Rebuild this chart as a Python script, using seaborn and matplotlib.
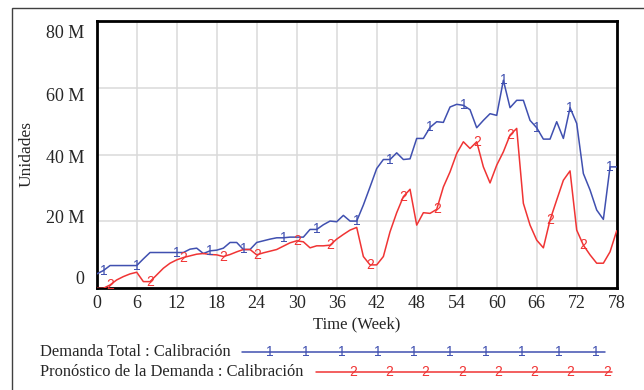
import matplotlib
matplotlib.use("Agg")
import matplotlib.pyplot as plt
import matplotlib.transforms as mtransforms
from matplotlib.lines import Line2D
from matplotlib.patches import Rectangle
import numpy as np
import pandas as pd
import seaborn as sns

# ---------------- data (millions of units) ----------------
weeks = list(range(79))
demanda_total = [
    4.3, 5.3, 6.8, 6.8, 6.8, 6.8, 6.8, 8.8, 10.7, 10.7,
    10.7, 10.7, 10.7, 10.7, 11.7, 12.0, 10.4, 11.2, 11.4, 12.0,
    13.7, 13.7, 11.6, 11.6, 13.7, 14.2, 14.7, 15.1, 15.1, 15.3,
    15.3, 15.3, 17.6, 17.6, 19.0, 20.1, 19.9, 21.8, 20.1, 20.1,
    24.9, 30.3, 35.8, 38.5, 38.5, 40.5, 38.5, 38.7, 44.8, 44.8,
    48.1, 49.8, 49.6, 54.2, 55.0, 54.7, 53.4, 48.0, 50.2, 52.2,
    51.7, 62.2, 54.0, 56.2, 56.2, 50.2, 48.0, 44.6, 44.6, 49.8,
    44.8, 54.0, 49.3, 34.3, 29.4, 23.4, 20.6, 36.3, 36.3,
]
pronostico = [
    0.0, 0.0, 1.0, 2.5, 3.5, 4.3, 4.8, 2.0, 2.0, 4.0,
    6.0, 7.5, 8.5, 9.2, 9.7, 10.2, 10.4, 10.1, 10.0, 9.5,
    10.1, 10.9, 11.6, 11.6, 10.0, 10.6, 11.1, 11.6, 12.6, 13.6,
    14.2, 13.9, 12.1, 12.7, 12.7, 12.9, 14.7, 16.1, 17.4, 18.2,
    9.5, 7.0, 7.0, 9.5, 16.9, 22.6, 27.4, 29.6, 18.9, 22.6,
    22.4, 23.6, 30.3, 34.8, 40.3, 43.8, 41.8, 43.8, 36.3, 31.5,
    36.8, 40.8, 45.8, 47.8, 25.4, 18.9, 14.4, 12.1, 20.4, 26.4,
    32.3, 35.1, 17.4, 12.9, 10.0, 7.5, 7.5, 10.9, 17.2,
]
marker_weeks_total = [1, 6, 12, 17, 22, 28, 33, 39, 44, 50, 55, 61, 66, 71, 77]
marker_weeks_pron = [2, 8, 13, 19, 24, 30, 35, 41, 46, 51, 57, 62, 68, 73]

series_names = ["Demanda Total : Calibración", "Pronóstico de la Demanda : Calibración"]
x_ticks = list(range(0, 79, 6))
y_ticks = [0, 20, 40, 60, 80]
y_tick_labels = ["0", "20 M", "40 M", "60 M", "80 M"]
x_label = "Time (Week)"
y_label = "Unidades"

BLUE = "#4050B0"
RED = "#F03434"

# ---------------- style ----------------
sns.set_style("white")
plt.rcParams["font.family"] = ["Liberation Serif", "DejaVu Serif"]

fig = plt.figure(figsize=(6.44, 3.90), dpi=100)
ax = fig.add_axes([96.7 / 644, 1 - 288.3 / 390, 520 / 644, (288.3 - 20.7) / 390])

df = pd.DataFrame({
    "week": weeks * 2,
    "value": demanda_total + pronostico,
    "serie": [series_names[0]] * len(weeks) + [series_names[1]] * len(weeks),
})
sns.lineplot(data=df, x="week", y="value", hue="serie",
             palette={series_names[0]: BLUE, series_names[1]: RED},
             legend=False, ax=ax, linewidth=1.1, zorder=3)

MK_SIZE = 10
# numbered markers on the lines
for w in marker_weeks_total:
    ax.text(w, demanda_total[w], "1", color=BLUE, ha="center", va="center",
            fontsize=MK_SIZE, family="Liberation Sans", zorder=4, clip_on=False)
for w in marker_weeks_pron:
    ax.text(w, pronostico[w], "2", color=RED, ha="center", va="center",
            fontsize=MK_SIZE, family="Liberation Sans", zorder=4, clip_on=False)

ax.set_xlim(0, 78)
ax.set_ylim(0, 80)
ax.set_xticks(x_ticks)
ax.set_xticklabels([str(t) for t in x_ticks], fontsize=13)
ax.set_yticks(y_ticks)
ax.set_yticklabels(y_tick_labels, fontsize=13)
ax.tick_params(axis="both", length=0)
ax.tick_params(axis="x", pad=5)
ax.tick_params(axis="y", pad=9)
ax.grid(True, color="#DADADA", linewidth=1.1)
ax.set_axisbelow(True)
for sp in ax.spines.values():
    sp.set_color("black")
    sp.set_linewidth(2)
ax.set_xlabel(x_label, fontsize=12, labelpad=3)
ax.set_ylabel("")
fig.text(27 / 644, 1 - 154 / 390, y_label, rotation=90, ha="center", va="center", fontsize=12.5)

# Vensim-style compressed placement of y tick labels
offsets_pt = {0: 8.0, 20: 3.4, 40: -1.2, 60: -4.8, 80: -8.0}
for lab, val in zip(ax.get_yticklabels(), y_ticks):
    lab.set_transform(lab.get_transform() +
                      mtransforms.ScaledTranslation(0, offsets_pt[val] / 72, fig.dpi_scale_trans))

# outer frame
fig.patches.append(Rectangle((12.5 / 644, -0.05), 1.0, 1 - 8 / 390 + 0.05,
                             transform=fig.transFigure, fill=False,
                             edgecolor="#404040", linewidth=1.0))

# custom legend
def px(x):
    return x / 644

def py(y):
    return 1 - y / 390

LEG_FS = 11.85
fig.text(px(40), py(352), series_names[0], ha="left", va="center", fontsize=LEG_FS)
fig.add_artist(Line2D([px(242), px(605)], [py(351.7), py(351.7)], color=BLUE, lw=1.1,
                      transform=fig.transFigure))
for x in [270, 306, 342, 378, 414, 450, 486, 522, 559, 596]:
    fig.text(px(x), py(351.7), "1", color=BLUE, ha="center", va="center",
             fontsize=MK_SIZE, family="Liberation Sans")

fig.text(px(40), py(372), series_names[1], ha="left", va="center", fontsize=LEG_FS)
fig.add_artist(Line2D([px(316), px(612)], [py(372), py(372)], color=RED, lw=1.1,
                      transform=fig.transFigure))
for x in [353, 389, 425, 462, 498, 534, 570, 607]:
    fig.text(px(x), py(372), "2", color=RED, ha="center", va="center",
             fontsize=MK_SIZE, family="Liberation Sans")

fig.savefig("out.png", dpi=100)
